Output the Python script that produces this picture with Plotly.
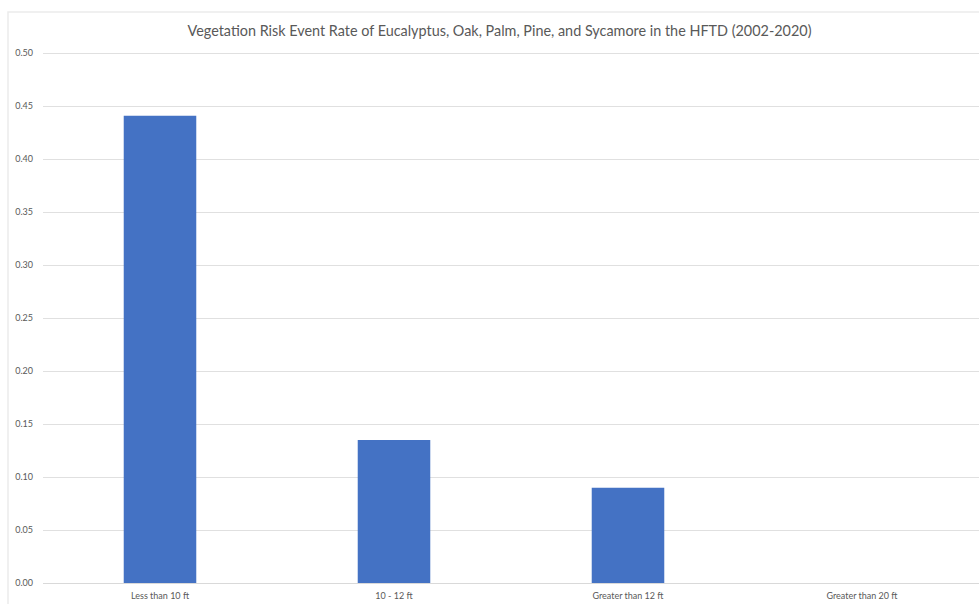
import plotly.graph_objects as go

categories = ["Less than 10 ft", "10 - 12 ft", "Greater than 12 ft", "Greater than 20 ft"]
rates = [0.441, 0.135, 0.090, 0.0]
y_ticks = [0.00, 0.05, 0.10, 0.15, 0.20, 0.25, 0.30, 0.35, 0.40, 0.45, 0.50]
title_text = "Vegetation Risk Event Rate of Eucalyptus, Oak, Palm, Pine, and Sycamore in the HFTD (2002-2020)"

W, H = 979, 604
L, R, T, B = 43, 0, 48, 21
pw, ph = W - L - R, H - T - B

fig = go.Figure(go.Bar(x=categories, y=rates, marker=dict(color="#4472C4", line=dict(width=0)), width=0.31))

fig.update_layout(
    width=W, height=H,
    margin=dict(l=L, r=R, t=T, b=B, pad=0),
    paper_bgcolor="white", plot_bgcolor="white",
    showlegend=False,
    font=dict(family="Lato, Open Sans, sans-serif", color="#595959"),
    title=dict(text=title_text, x=(499.5 - L) / pw, xref="paper", xanchor="center",
               y=1 - 31 / H, yref="container", yanchor="middle",
               font=dict(size=14.4, color="#595959")),
    xaxis=dict(showgrid=False, showline=False, ticks="", ticklabelstandoff=6,
               tickfont=dict(size=9, color="#595959")),
    yaxis=dict(range=[0, 0.505], tickvals=y_ticks, tickformat=".2f", showgrid=True,
               gridcolor="#e0e0e0", gridwidth=1, zeroline=True, zerolinecolor="#d9d9d9",
               zerolinewidth=1, showline=False, ticks="", ticklabelstandoff=9,
               tickfont=dict(size=9, color="#595959")),
    shapes=[dict(type="rect", xref="paper", yref="paper",
                 x0=(8 - L) / pw, x1=1.05, y0=-0.2, y1=(H - B - 12) / ph,
                 line=dict(color="#ebebeb", width=1.5), layer="below")],
)

fig.write_html("out.html")
